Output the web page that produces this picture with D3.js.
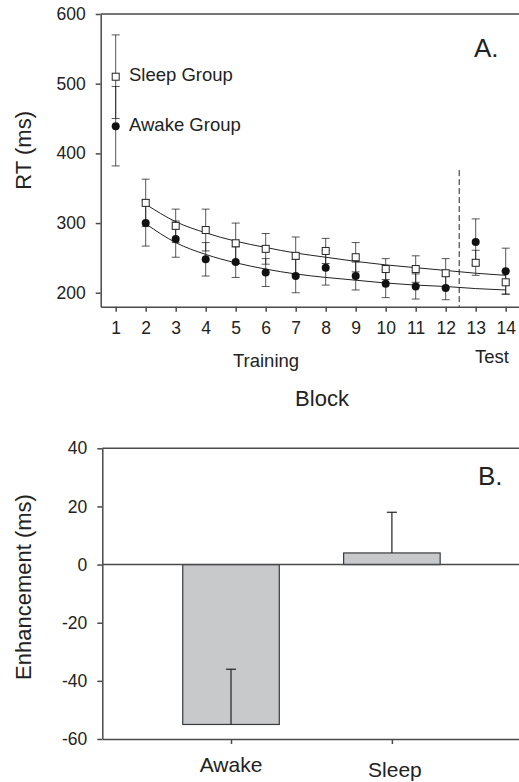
<!DOCTYPE html>
<html>
<head>
<meta charset="utf-8">
<script src="https://cdn.jsdelivr.net/npm/d3@7"></script>
<style>
  body { margin: 0; background: #fff; }
  svg { display: block; font-family: 'Liberation Sans', Arial, sans-serif; }
  text { fill: #222; }
</style>
</head>
<body>
<div id="chart"></div>
<script>
// Panel A data
const blocks = [1, 2, 3, 4, 5, 6, 7, 8, 9, 10, 11, 12, 13, 14]
const sleepRT = [510, 329, 296, 290, 271, 263, 253, 260, 251, 234, 234, 228, 243, 215]
const sleepSE = [60, 34, 24, 30, 29, 22, 27, 18, 21, 15, 19, 21, 18, 17]
const awakeRT = [439, 300, 277, 248, 244, 229, 224, 236, 224, 213, 209, 207, 273, 231]
const awakeSE = [57, 33, 26, 24, 22, 20, 24, 25, 20, 20, 18, 17, 33, 33]
// fitted curves, blocks 2..14
const fitBlocks = [2, 3, 4, 5, 6, 7, 8, 9, 10, 11, 12, 13, 14]
const sleepFit = [327, 302, 286, 274, 265, 257, 251, 245, 240, 236, 232, 228, 225]
const awakeFit = [299, 272, 255, 243, 234, 227, 222, 218, 214, 211, 209, 206, 204]
const rtTicks = [200, 300, 400, 500, 600]

// Panel B data
const groups = ['Awake', 'Sleep']
const enhancement = [-55, 4]
const enhancementSE = [19, 14]
const enhTicks = [-60, -40, -20, 0, 20, 40]

const W = 519, H = 782
const axisColor = '#4a4a4a'
const plain = d => String(d)   // keep ascii hyphen for negatives

const svg = d3.select('#chart').append('svg')
  .attr('width', W)
  .attr('height', H)

// ---------- Panel A ----------
const x = d3.scaleLinear().domain([0.5, 14.5]).range([100.7, 520.7])
const y = d3.scaleLinear().domain([180, 600]).range([306.7, 14])

const gA = svg.append('g')

// y axis
gA.append('g')
  .attr('transform', `translate(${x(0.5)},0)`)
  .call(d3.axisLeft(y).tickValues(rtTicks).tickFormat(plain).tickSize(5).tickPadding(10).tickSizeOuter(0))
  .call(g => g.selectAll('text').attr('font-size', 17.5).attr('fill', '#222'))

// x axis
gA.append('g')
  .attr('transform', `translate(0,${y(180)})`)
  .call(d3.axisBottom(x).tickValues(blocks).tickFormat(plain).tickSize(5).tickPadding(10).tickSizeOuter(0))
  .call(g => g.selectAll('text').attr('font-size', 17.5).attr('fill', '#222'))

// top border
gA.append('line')
  .attr('x1', x(0.5)).attr('x2', x(14.5))
  .attr('y1', y(600)).attr('y2', y(600))

gA.selectAll('.domain, .tick line, line')
  .attr('stroke', axisColor)
  .attr('stroke-width', 1.5)

// dashed training/test separator
gA.append('line')
  .attr('x1', x(12.45)).attr('x2', x(12.45))
  .attr('y1', y(376)).attr('y2', y(180))
  .attr('stroke', '#222')
  .attr('stroke-width', 1)
  .attr('stroke-dasharray', '6,3')

// error bars
function errorBars(values, errs) {
  const g = gA.append('g')
    .attr('stroke', '#111')
    .attr('stroke-opacity', 0.7)
    .attr('stroke-width', 1)
  blocks.forEach((b, i) => {
    const cx = x(b)
    const top = y(values[i] + errs[i])
    const bot = y(values[i] - errs[i])
    g.append('line').attr('x1', cx).attr('x2', cx).attr('y1', top).attr('y2', bot)
    g.append('line').attr('x1', cx - 4).attr('x2', cx + 4).attr('y1', top).attr('y2', top)
    g.append('line').attr('x1', cx - 4).attr('x2', cx + 4).attr('y1', bot).attr('y2', bot)
  })
}
errorBars(sleepRT, sleepSE)
errorBars(awakeRT, awakeSE)

// fitted curves
const fitLine = d3.line()
  .x((d, i) => x(fitBlocks[i]))
  .y(d => y(d))
  .curve(d3.curveMonotoneX)

gA.append('path')
  .attr('d', fitLine(sleepFit))
  .attr('fill', 'none')
  .attr('stroke', '#222')
  .attr('stroke-width', 1)

gA.append('path')
  .attr('d', fitLine(awakeFit))
  .attr('fill', 'none')
  .attr('stroke', '#222')
  .attr('stroke-width', 1)

// markers
gA.selectAll('.awake')
  .data(awakeRT)
  .join('circle')
  .attr('class', 'awake')
  .attr('cx', (d, i) => x(blocks[i]))
  .attr('cy', d => y(d))
  .attr('r', 4)
  .attr('fill', '#111')

gA.selectAll('.sleep')
  .data(sleepRT)
  .join('rect')
  .attr('class', 'sleep')
  .attr('x', (d, i) => x(blocks[i]) - 3.5)
  .attr('y', d => y(d) - 3.5)
  .attr('width', 7)
  .attr('height', 7)
  .attr('fill', '#fff')
  .attr('stroke', '#222')
  .attr('stroke-width', 1)

// group labels
gA.append('text')
  .attr('x', 129).attr('y', y(sleepRT[0]) - 2)
  .attr('dy', '0.35em')
  .attr('font-size', 18.5)
  .text('Sleep Group')

gA.append('text')
  .attr('x', 129).attr('y', y(awakeRT[0]) - 2)
  .attr('dy', '0.35em')
  .attr('font-size', 18.5)
  .text('Awake Group')

gA.append('text')
  .attr('x', 474).attr('y', 56.5)
  .attr('font-size', 26)
  .text('A.')

gA.append('text')
  .attr('x', 266).attr('y', 366.5)
  .attr('text-anchor', 'middle')
  .attr('font-size', 18.5)
  .text('Training')

gA.append('text')
  .attr('x', 492).attr('y', 362.5)
  .attr('text-anchor', 'middle')
  .attr('font-size', 18.5)
  .text('Test')

gA.append('text')
  .attr('x', 322).attr('y', 406)
  .attr('text-anchor', 'middle')
  .attr('font-size', 22)
  .text('Block')

gA.append('text')
  .attr('transform', `translate(31,${(y(180) + y(600)) / 2 - 10}) rotate(-90)`)
  .attr('text-anchor', 'middle')
  .attr('font-size', 22)
  .text('RT (ms)')

// ---------- Panel B ----------
const xb = d3.scaleLinear().domain([-0.8, 1.8]).range([102.3, 520.6])
const yb = d3.scaleLinear().domain([-60, 40]).range([739, 448.3])
const barW = xb(0.3) - xb(0)

const gB = svg.append('g')

gB.append('g')
  .attr('transform', `translate(${xb(-0.8)},0)`)
  .call(d3.axisLeft(yb).tickValues(enhTicks).tickFormat(plain).tickSize(5).tickPadding(10).tickSizeOuter(0))
  .call(g => g.selectAll('text').attr('font-size', 17.5).attr('fill', '#222'))

gB.append('g')
  .attr('transform', `translate(0,${yb(-60)})`)
  .call(d3.axisBottom(xb).tickValues([0, 1]).tickSize(5).tickFormat('').tickSizeOuter(0))

gB.append('line')
  .attr('x1', xb(-0.8)).attr('x2', xb(1.8))
  .attr('y1', yb(40)).attr('y2', yb(40))

// bars
gB.selectAll('.bar')
  .data(enhancement)
  .join('rect')
  .attr('class', 'bar')
  .attr('x', (d, i) => xb(i) - barW)
  .attr('width', barW * 2)
  .attr('y', d => yb(Math.max(0, d)))
  .attr('height', d => Math.abs(yb(d) - yb(0)))
  .attr('fill', '#c8c9cb')
  .attr('stroke', '#3a3a3a')
  .attr('stroke-width', 1.2)

// zero line
gB.append('line')
  .attr('x1', xb(-0.8)).attr('x2', xb(1.8))
  .attr('y1', yb(0)).attr('y2', yb(0))

gB.selectAll('.domain, .tick line, line')
  .attr('stroke', axisColor)
  .attr('stroke-width', 1.5)

// error bars, drawn upward only
enhancement.forEach((v, i) => {
  const cx = xb(i)
  const top = yb(v + enhancementSE[i])
  gB.append('line')
    .attr('x1', cx).attr('x2', cx)
    .attr('y1', yb(v)).attr('y2', top)
    .attr('stroke', '#222').attr('stroke-width', 1.2)
  gB.append('line')
    .attr('x1', cx - 5).attr('x2', cx + 5)
    .attr('y1', top).attr('y2', top)
    .attr('stroke', '#222').attr('stroke-width', 1.2)
})

// category labels
const labelBase = [771.5, 776.5]
groups.forEach((g, i) => {
  gB.append('text')
    .attr('x', xb(i) + (i ? 3 : 0)).attr('y', labelBase[i])
    .attr('text-anchor', 'middle')
    .attr('font-size', 21)
    .text(g)
})

gB.append('text')
  .attr('x', 478).attr('y', 485)
  .attr('font-size', 26)
  .text('B.')

gB.append('text')
  .attr('transform', `translate(31,587) rotate(-90)`)
  .attr('text-anchor', 'middle')
  .attr('font-size', 22)
  .text('Enhancement (ms)')
</script>
</body>
</html>
